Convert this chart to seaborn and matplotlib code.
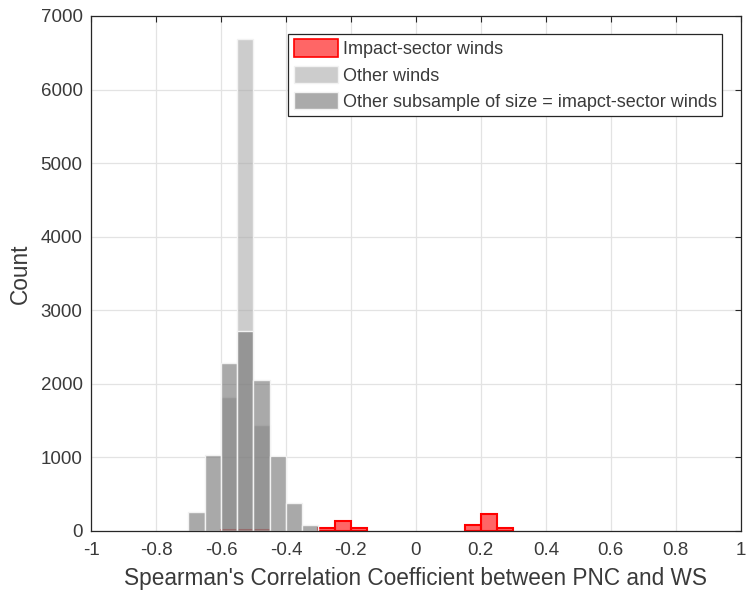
import numpy as np
import pandas as pd
import matplotlib
matplotlib.use("Agg")
import matplotlib.pyplot as plt
from matplotlib.patches import Patch
import seaborn as sns

# Histogram bins (left edges), width 0.05
bin_left = [-0.70, -0.65, -0.60, -0.55, -0.50, -0.45, -0.40, -0.35, -0.30, -0.25,
            -0.20, -0.15, -0.10, -0.05, 0.00, 0.05, 0.10, 0.15, 0.20, 0.25]
bin_width = 0.05

# Counts
impact_counts = [0, 0, 10, 10, 10, 0, 0, 0, 41, 132,
                 41, 0, 0, 0, 0, 0, 0, 86, 237, 41]
other_counts = [0, 0, 1816, 6689, 1444, 0, 0, 0, 0, 0,
                0, 0, 0, 0, 0, 0, 0, 0, 0, 0]
subsample_counts = [263, 1035, 2283, 2721, 2057, 1022, 376, 76, 0, 0,
                    0, 0, 0, 0, 0, 0, 0, 0, 0, 0]

series_names = ["Impact-sector winds", "Other winds",
                "Other subsample of size = imapct-sector winds"]

x_ticks = [-1, -0.8, -0.6, -0.4, -0.2, 0, 0.2, 0.4, 0.6, 0.8, 1]
x_tick_labels = ["-1", "-0.8", "-0.6", "-0.4", "-0.2", "0", "0.2", "0.4", "0.6", "0.8", "1"]
y_ticks = [0, 1000, 2000, 3000, 4000, 5000, 6000, 7000]

#%%
centers = np.array(bin_left) + bin_width / 2
edges = list(bin_left) + [bin_left[-1] + bin_width]

sns.set_style("white")
plt.rcParams["font.family"] = ["Liberation Sans", "DejaVu Sans"]
txt_col = "#3a3a3a"

fig = plt.figure(figsize=(7.46, 6.01), dpi=100)
ax = fig.add_axes([0.122, 0.1165, 0.871, 0.857])

styles = [
    dict(color="#ff0000", edgecolor="#ff0000", alpha=0.6, linewidth=1.5),
    dict(color="#aaaaaa", edgecolor="#f2f2f2", alpha=0.6, linewidth=1.0),
    dict(color="#717171", edgecolor="#f2f2f2", alpha=0.6, linewidth=1.0),
]
all_counts = [impact_counts, other_counts, subsample_counts]

for counts, st in zip(all_counts, styles):
    df = pd.DataFrame({"x": centers, "w": counts})
    n_before = len(ax.patches)
    sns.histplot(data=df, x="x", weights="w", bins=edges, ax=ax,
                 stat="count", zorder=2, **st)
    # hide empty bins
    for p in ax.patches[n_before:]:
        if p.get_height() == 0:
            p.set_visible(False)

# red edges fully opaque
for p in ax.patches:
    if p.get_visible() and p.get_edgecolor()[0] > 0.9 and p.get_edgecolor()[1] < 0.1:
        p.set_edgecolor((1, 0, 0, 1))

ax.set_xlim(-1, 1)
ax.set_ylim(0, 7000)
ax.set_xticks(x_ticks)
ax.set_xticklabels(x_tick_labels)
ax.set_yticks(y_ticks)
ax.grid(True, color="#e3e3e3", linewidth=0.9, zorder=0)
ax.set_axisbelow(True)
ax.tick_params(direction="in", top=True, right=True, length=4,
               labelsize=13.5, colors="#262626", labelcolor=txt_col,
               width=0.8, pad=6)
ax.tick_params(axis="x", pad=8)
for s in ax.spines.values():
    s.set_color("#262626")
    s.set_linewidth(0.9)

ax.set_xlabel("Spearman's Correlation Coefficient between PNC and WS",
              fontsize=16.3, color=txt_col, labelpad=6)
ax.set_ylabel("Count", fontsize=16.3, color=txt_col, labelpad=6)

handles = [
    Patch(facecolor=(1, 0.4, 0.4), edgecolor="#ff0000", linewidth=1.2),
    Patch(facecolor="#cccccc", edgecolor="#f2f2f2"),
    Patch(facecolor="#aaaaaa", edgecolor="#f2f2f2"),
]
leg = ax.legend(handles, series_names, loc="upper right", fontsize=13,
                frameon=True, fancybox=False, edgecolor="#262626",
                bbox_to_anchor=(0.971, 0.965), borderaxespad=0,
                handlelength=2.45, handleheight=1.1, handletextpad=0.25,
                labelspacing=0.42, borderpad=0.3)
leg.get_frame().set_linewidth(0.9)
leg.get_frame().set_alpha(1)
for t in leg.get_texts():
    t.set_color(txt_col)

fig.savefig("out.png", dpi=100)
